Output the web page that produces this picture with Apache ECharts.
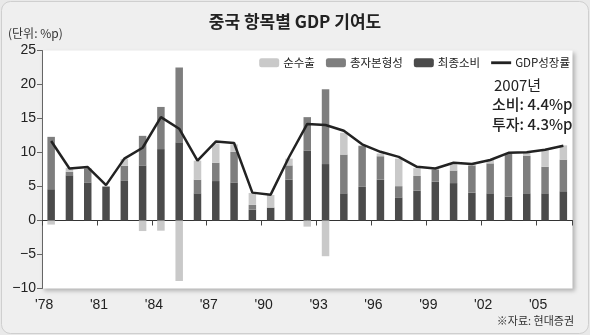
<!DOCTYPE html>
<html>
<head>
<meta charset="utf-8">
<script src="https://cdn.jsdelivr.net/npm/echarts@6/dist/echarts.min.js"></script>
<style>
  html, body { margin: 0; padding: 0; background: #e6e6e6; }
  #chart { width: 590px; height: 335px; }
</style>
</head>
<body>
<div id="chart"></div>
<script>
// China: contribution to GDP growth by expenditure item (percentage points)
const years = [1978, 1979, 1980, 1981, 1982, 1983, 1984, 1985, 1986, 1987,
               1988, 1989, 1990, 1991, 1992, 1993, 1994, 1995, 1996, 1997,
               1998, 1999, 2000, 2001, 2002, 2003, 2004, 2005, 2006];

// final consumption (최종소비)
const consumption = [4.6, 6.65, 5.6, 5.0, 5.9, 8.1, 10.5, 11.5, 4.0, 5.8,
                     5.6, 1.6, 1.9, 6.0, 10.3, 8.3, 4.0, 4.95, 6.0, 3.4,
                     4.4, 5.7, 5.5, 4.1, 4.0, 3.5, 4.0, 4.0, 4.3];
// gross capital formation (총자본형성)
const capital = [7.7, 0.5, 2.05, 0, 2.15, 4.35, 6.2, 11.0, 2.0, 2.7,
                 4.5, 0.7, 0, 2.1, 4.9, 11.0, 5.7, 6.0, 3.45, 1.65,
                 2.15, 1.8, 1.85, 4.0, 4.4, 6.35, 5.5, 3.9, 4.65];
// net exports (순수출)
const netExports = [-0.6, 0.6, 0, 0, 1.0, -1.55, -1.5, -8.9, 2.8, 2.85,
                    1.1, 1.75, 1.85, 1.0, -0.9, -5.25, 3.2, 0.1, 0.4, 4.05,
                    1.15, 0, 0.9, 0.25, 0.5, 0, 0.45, 2.45, 2.1];
// real GDP growth (GDP성장률, %)
const gdpGrowth = [11.7, 7.65, 7.85, 5.2, 9.1, 10.7, 15.2, 13.5, 8.8, 11.6,
                   11.4, 4.1, 3.8, 9.3, 14.2, 14.05, 13.2, 11.2, 10.1, 9.35,
                   7.9, 7.65, 8.5, 8.3, 8.9, 9.95, 10.05, 10.4, 11.0];

const yTicks = { min: -10, max: 25, step: 5 };

const NUM_FONT = '"Liberation Sans Narrow", "Liberation Sans", Arial, sans-serif';
const KR_FONT = '"Noto Sans CJK KR", "Noto Sans", sans-serif';

const chart = echarts.init(document.getElementById('chart'), null, { renderer: 'canvas' });

const yearLabel = (v) => "'" + String(v).slice(2);

chart.setOption({
  backgroundColor: '#e9e9e9',
  animation: false,
  graphic: [
    {
      type: 'rect', z: -10, silent: true,
      shape: { x: 1.5, y: 1.5, width: 587, height: 332, r: 9 },
      style: { fill: '#efefef', stroke: '#cfcfcf', lineWidth: 1 }
    },
    {
      type: 'text', left: 'center', top: 13,
      style: { text: '중국 항목별 GDP 기여도', font: 'bold 17px ' + KR_FONT, fill: '#222' }
    },
    {
      type: 'text', left: 8, top: 27,
      style: { text: '(단위: %p)', font: '12px ' + KR_FONT, fill: '#333' }
    },
    {
      type: 'text', right: 16, top: 315,
      style: { text: '※자료: 현대증권', font: '11px ' + KR_FONT, fill: '#333' }
    },
    {
      type: 'text', left: 494, top: 78,
      style: { text: '2007년', font: '15px ' + KR_FONT, fill: '#222' }
    },
    {
      type: 'text', left: 492, top: 97,
      style: { text: '소비: 4.4%p', font: '500 15px ' + KR_FONT, fill: '#222' }
    },
    {
      type: 'text', left: 492, top: 117,
      style: { text: '투자: 4.3%p', font: '500 15px ' + KR_FONT, fill: '#222' }
    }
  ],
  legend: {
    top: 57,
    right: 20,
    padding: 0,
    itemWidth: 20,
    itemHeight: 9,
    itemGap: 11,
    textStyle: { fontFamily: KR_FONT, fontSize: 11.5, color: '#222', padding: [0, 0, 0, -1] },
    data: [
      { name: '순수출' },
      { name: '총자본형성' },
      { name: '최종소비' },
      { name: 'GDP성장률', icon: 'path://M0,0 L17,0 L17,2.4 L0,2.4 Z' }
    ]
  },
  grid: {
    left: 42, right: 17.5, top: 50.5, bottom: 46.5,
    show: true,
    backgroundColor: '#ffffff',
    borderWidth: 0,
    shadowColor: 'rgba(0,0,0,0.25)',
    shadowBlur: 4,
    shadowOffsetX: 2,
    shadowOffsetY: 2
  },
  xAxis: [
    {
      type: 'category',
      data: years,
      axisLine: { onZero: true, lineStyle: { color: '#333', width: 1 } },
      axisTick: { show: true, interval: 2, length: 5, lineStyle: { color: '#444' } },
      axisLabel: { show: false }
    },
    {
      type: 'category',
      data: years,
      position: 'bottom',
      axisLine: { show: false, onZero: false },
      axisTick: { show: false },
      axisLabel: {
        interval: 2,
        margin: 10,
        padding: [0, 14, 0, 0],
        formatter: yearLabel,
        fontFamily: NUM_FONT,
        fontSize: 14,
        color: '#222'
      }
    }
  ],
  yAxis: {
    type: 'value',
    min: yTicks.min,
    max: yTicks.max,
    interval: yTicks.step,
    splitLine: { show: false },
    axisLine: { show: true, lineStyle: { color: '#666', width: 1 } },
    axisTick: { show: true, length: 5, lineStyle: { color: '#666' } },
    axisLabel: {
      margin: 6,
      fontFamily: NUM_FONT,
      fontSize: 14,
      color: '#222',
      formatter: (v) => (v < 0 ? '\u2212' + Math.abs(v) : String(v))
    }
  },
  series: [
    {
      name: '최종소비', type: 'bar', stack: 'gdp', barWidth: 7.5,
      itemStyle: { color: '#4b4b4b' },
      data: consumption
    },
    {
      name: '총자본형성', type: 'bar', stack: 'gdp', barWidth: 7.5,
      itemStyle: { color: '#7e7e7e' },
      data: capital
    },
    {
      name: '순수출', type: 'bar', stack: 'gdp', barWidth: 7.5,
      itemStyle: { color: '#c9c9c9' },
      data: netExports
    },
    {
      name: 'GDP성장률', type: 'line', z: 5,
      symbol: 'none',
      lineStyle: { color: '#222', width: 2.5 },
      itemStyle: { color: '#222' },
      data: gdpGrowth
    }
  ]
});
</script>
</body>
</html>
